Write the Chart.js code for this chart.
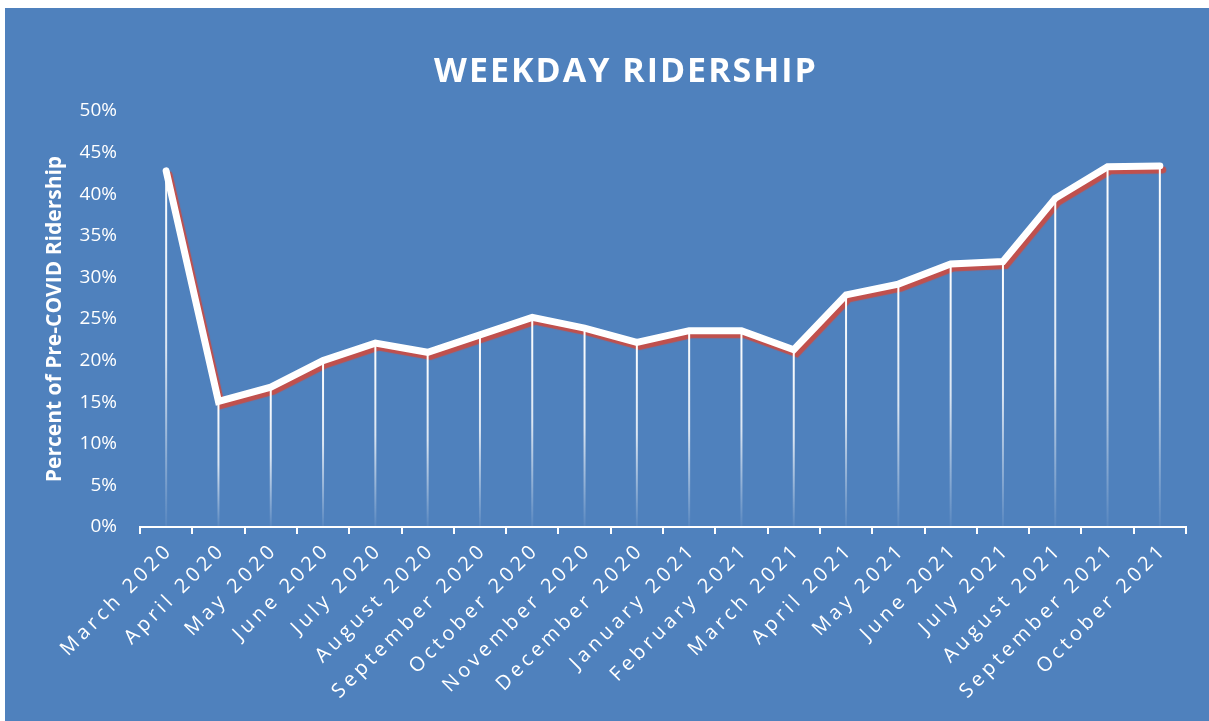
<!DOCTYPE html>
<html>
<head>
<meta charset="utf-8">
<script src="https://cdn.jsdelivr.net/npm/chart.js@4.4.0/dist/chart.umd.min.js"></script>
<style>
  body { margin: 0; background: #fff; }
  #wrap { position: absolute; left: 5px; top: 8px; width: 1204px; height: 713px; background: #4F81BD; }
</style>
</head>
<body>
<div id="wrap"><canvas id="ridership"></canvas></div>

<script>
  const chartTitle = 'WEEKDAY RIDERSHIP';
  const yAxisTitle = 'Percent of Pre-COVID Ridership';

  const months = [
    'March 2020', 'April 2020', 'May 2020', 'June 2020', 'July 2020',
    'August 2020', 'September 2020', 'October 2020', 'November 2020', 'December 2020',
    'January 2021', 'February 2021', 'March 2021', 'April 2021', 'May 2021',
    'June 2021', 'July 2021', 'August 2021', 'September 2021', 'October 2021'
  ];
  // percent of pre-COVID weekday ridership
  const ridership = [
    42.8, 15.1, 16.8, 20.0, 22.1,
    21.0, 23.1, 25.2, 23.9, 22.2,
    23.6, 23.6, 21.3, 27.9, 29.2,
    31.6, 31.9, 39.5, 43.3, 43.4
  ];
  const yMin = 0, yMax = 50, yStep = 5;

  // red drop shadow under the white line
  const shadowPlugin = {
    id: 'lineShadow',
    beforeDatasetDraw(chart) {
      const c = chart.ctx;
      c.save();
      c.shadowColor = '#C0504D';
      c.shadowOffsetX = 3;
      c.shadowOffsetY = 4;
      c.shadowBlur = 1;
    },
    afterDatasetDraw(chart) {
      chart.ctx.restore();
    }
  };

  // faded drop lines from each point down to the axis, then title
  const dropLinePlugin = {
    id: 'dropLines',
    beforeDraw(chart) {
      chart.ctx.letterSpacing = '0px';
    },
    afterDatasetsDraw(chart) {
      const c = chart.ctx;
      const base = chart.scales.y.getPixelForValue(yMin);
      c.save();
      c.lineWidth = 2;
      chart.getDatasetMeta(0).data.forEach(p => {
        const g = c.createLinearGradient(0, p.y, 0, base);
        g.addColorStop(0, 'rgba(255,255,255,1)');
        g.addColorStop(0.5, 'rgba(255,255,255,0.8)');
        g.addColorStop(1, 'rgba(255,255,255,0.05)');
        c.strokeStyle = g;
        c.beginPath();
        c.moveTo(p.x, p.y);
        c.lineTo(p.x, base);
        c.stroke();
      });
      c.restore();
      // x labels (ticks.z = 1, drawn after datasets) are letter-spaced
      c.letterSpacing = '4px';
    },
    afterDraw(chart) {
      const c = chart.ctx;
      c.letterSpacing = '0px';
      c.save();
      c.letterSpacing = '2px';
      c.font = 'bold 34px "Open Sans"';
      c.fillStyle = '#fff';
      c.textAlign = 'center';
      c.textBaseline = 'middle';
      c.fillText(chartTitle, 621, 64);
      c.restore();
    }
  };

  const ctx = document.getElementById('ridership').getContext('2d');
  new Chart(ctx, {
    type: 'line',
    data: {
      labels: months,
      datasets: [{
        label: 'Weekday Ridership',
        data: ridership,
        borderColor: '#ffffff',
        borderWidth: 7,
        borderCapStyle: 'round',
        borderJoinStyle: 'miter',
        pointRadius: 0,
        tension: 0,
        fill: false
      }]
    },
    options: {
      responsive: true,
      maintainAspectRatio: false,
      animation: false,
      layout: { padding: { top: 103, right: 23, left: 0, bottom: 0 } },
      plugins: {
        legend: { display: false },
        tooltip: { enabled: false },
        title: { display: false }
      },
      scales: {
        x: {
          offset: true,
          afterFit(scale) { scale.height = 194; },
          grid: {
            display: true,
            offset: true,
            drawOnChartArea: false,
            drawTicks: true,
            tickLength: 7,
            color: '#ffffff',
            lineWidth: 2
          },
          border: { display: true, color: '#ffffff', width: 2 },
          ticks: {
            z: 1,
            color: '#ffffff',
            font: { family: 'Open Sans', size: 20 },
            minRotation: 45,
            maxRotation: 45,
            autoSkip: false,
            labelOffset: 4,
            padding: 4
          }
        },
        y: {
          min: yMin,
          max: yMax,
          afterFit(scale) { scale.width = 135; },
          grid: { display: false, drawTicks: false },
          border: { display: false },
          ticks: {
            stepSize: yStep,
            color: '#ffffff',
            font: { family: 'Open Sans', size: 19 },
            padding: 23,
            callback: v => v + '%'
          },
          title: {
            display: true,
            text: yAxisTitle,
            color: '#ffffff',
            font: { family: 'Open Sans', size: 21, weight: 'bold' },
            padding: { top: 37, bottom: 0 }
          }
        }
      }
    },
    plugins: [shadowPlugin, dropLinePlugin]
  });
</script>
</body>
</html>
